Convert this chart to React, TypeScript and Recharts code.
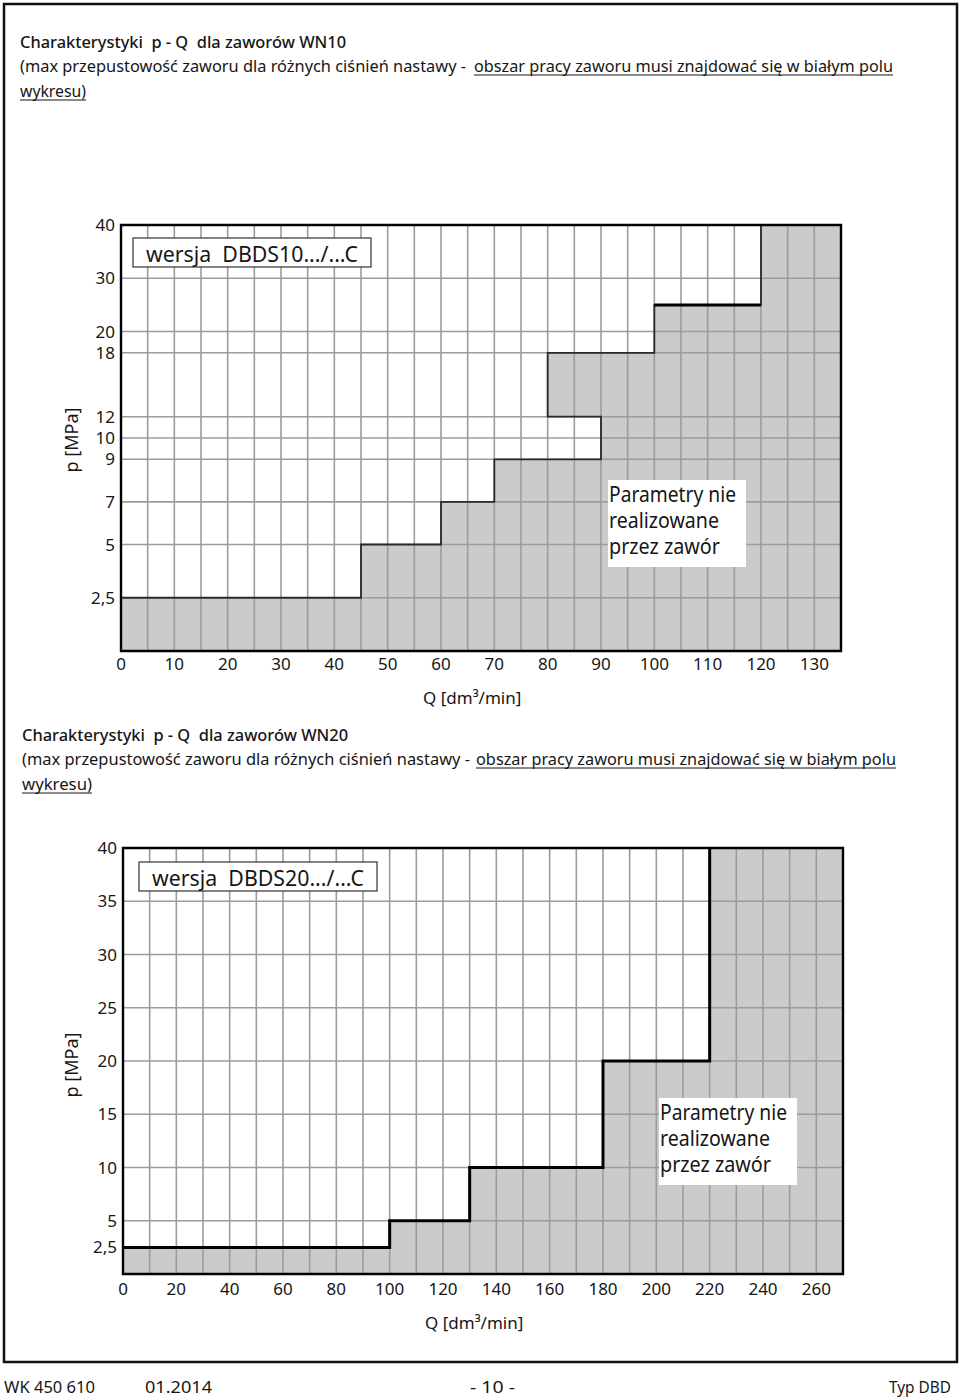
import React from 'react';
import { ComposedChart, Line, XAxis, YAxis, ReferenceArea, ReferenceLine } from 'recharts';

// ---------- WN10 chart data ----------
const q1Ticks = [0, 10, 20, 30, 40, 50, 60, 70, 80, 90, 100, 110, 120, 130];
const q1Grid = [5, 10, 15, 20, 25, 30, 35, 40, 45, 50, 55, 60, 65, 70, 75, 80, 85, 90, 95, 100, 105, 110, 115, 120, 125, 130];
const q1Max = 135;
const p1Ticks = [2.5, 5, 7, 9, 10, 12, 18, 20, 30, 40];
const p1BandLow = [2.5, 5, 7, 9, 12, 18, 25];
const p1BandHigh = [5, 7, 9, 12, 18, 25, 40];
const q1BandMax = [45, 60, 70, 90, 80, 100, 120];
// piecewise pressure axis of the WN10 chart (pressure knots -> axis units)
const p1Knots = [0, 10, 20, 40];
const p1Units = [0, 20, 30, 40];

// ---------- WN20 chart data ----------
const q2Ticks = [0, 20, 40, 60, 80, 100, 120, 140, 160, 180, 200, 220, 240, 260];
const q2Grid = [10, 20, 30, 40, 50, 60, 70, 80, 90, 100, 110, 120, 130, 140, 150, 160, 170, 180, 190, 200, 210, 220, 230, 240, 250, 260];
const q2Max = 270;
const p2Ticks = [2.5, 5, 10, 15, 20, 25, 30, 35, 40];
const p2Grid = [5, 10, 15, 20, 25, 30, 35];
const p2BandLow = [2.5, 5, 10, 20];
const p2BandHigh = [5, 10, 20, 40];
const q2BandMax = [100, 130, 180, 220];

const FONT = "'Noto Sans', 'Open Sans', sans-serif";
const TFONT = "'Liberation Sans Narrow', 'Noto Sans', sans-serif";
const GRID = '#9c9c9c';
const SHADE = '#cbcbcb';
const INK = '#161616';

function toU(p: number): number {
  for (let i = 1; i < p1Knots.length; i++) {
    if (p <= p1Knots[i]) {
      const t = (p - p1Knots[i - 1]) / (p1Knots[i] - p1Knots[i - 1]);
      return p1Units[i - 1] + t * (p1Units[i] - p1Units[i - 1]);
    }
  }
  return p1Units[p1Units.length - 1];
}

const fmt = (v: number) => String(v).replace('.', ',');

function stepPoints(low: number[], qmax: number[], top: number) {
  const pts: { q: number; p: number }[] = [];
  low.forEach((p, i) => {
    pts.push({ q: i === 0 ? 0 : qmax[i - 1], p });
    pts.push({ q: qmax[i], p });
  });
  pts.push({ q: qmax[qmax.length - 1], p: top });
  return pts;
}

const boundary1 = stepPoints(p1BandLow, q1BandMax, 40).map((d) => ({ q: d.q, u: toU(d.p) }));
const lastN = p1BandLow.length - 1;
const topSeg1 = [
  { q: q1BandMax[lastN - 1], u: toU(p1BandLow[lastN]) },
  { q: q1BandMax[lastN], u: toU(p1BandLow[lastN]) },
];
const boundary2 = stepPoints(p2BandLow, q2BandMax, 40).map((d) => ({ q: d.q, u: d.p }));
const p1TickUnits = p1Ticks.map(toU);

const tickStyle = { fontSize: 17, fill: INK, fontFamily: FONT };

function Chart1() {
  return (
    <ComposedChart width={960} height={500} margin={{ top: 25, right: 119, bottom: 19, left: 61 }}>
      <XAxis type="number" dataKey="q" domain={[0, q1Max]} ticks={q1Ticks} interval={0} allowDataOverflow
        tickLine={false} axisLine={false} tickSize={6} tickMargin={1} height={30} tick={tickStyle} />
      <YAxis type="number" dataKey="u" domain={[0, 40]} ticks={p1TickUnits} interval={0} allowDataOverflow
        tickLine={false} axisLine={false} tickSize={4} tickMargin={2} width={60} tick={tickStyle}
        tickFormatter={(u: number) => {
          const i = p1TickUnits.findIndex((x) => Math.abs(x - u) < 1e-6);
          return i >= 0 ? fmt(p1Ticks[i]) : '';
        }} />
      <ReferenceArea x1={0} x2={q1Max} y1={0} y2={40} fill={SHADE} fillOpacity={1} stroke="none" zIndex={1} />
      {p1BandLow.map((lo, i) => (
        <ReferenceArea key={'w' + i} x1={0} x2={q1BandMax[i]} y1={toU(lo)} y2={toU(p1BandHigh[i])}
          fill="#ffffff" fillOpacity={1} stroke="none" zIndex={2} />
      ))}
      {q1Grid.map((q) => (
        <ReferenceLine key={'gx' + q} x={q} stroke={GRID} strokeWidth={1.6} zIndex={3} />
      ))}
      {p1Ticks.filter((p) => p < 40).map((p) => (
        <ReferenceLine key={'gy' + p} y={toU(p)} stroke={GRID} strokeWidth={1.6} zIndex={3} />
      ))}
      <Line data={boundary1} dataKey="u" type="linear" stroke="#2a2a2a" strokeWidth={1.8} dot={false}
        isAnimationActive={false} zIndex={4} />
      <Line data={topSeg1} dataKey="u" type="linear" stroke="#000" strokeWidth={3} dot={false}
        isAnimationActive={false} zIndex={4} />
      <ReferenceArea x1={0} x2={q1Max} y1={0} y2={40} fill="none" stroke="#000" strokeWidth={2.4} zIndex={5} />
    </ComposedChart>
  );
}

function Chart2() {
  return (
    <ComposedChart width={960} height={500} margin={{ top: 28, right: 117, bottom: 16, left: 63 }}>
      <XAxis type="number" dataKey="q" domain={[0, q2Max]} ticks={q2Ticks} interval={0} allowDataOverflow
        tickLine={false} axisLine={false} tickSize={6} tickMargin={3} height={30} tick={tickStyle} />
      <YAxis type="number" dataKey="u" domain={[0, 40]} ticks={p2Ticks} interval={0} allowDataOverflow
        tickLine={false} axisLine={false} tickSize={4} tickMargin={2} width={60} tick={tickStyle}
        tickFormatter={(v: number) => fmt(v)} />
      <ReferenceArea x1={0} x2={q2Max} y1={0} y2={40} fill={SHADE} fillOpacity={1} stroke="none" zIndex={1} />
      {p2BandLow.map((lo, i) => (
        <ReferenceArea key={'w' + i} x1={0} x2={q2BandMax[i]} y1={lo} y2={p2BandHigh[i]}
          fill="#ffffff" fillOpacity={1} stroke="none" zIndex={2} />
      ))}
      {q2Grid.map((q) => (
        <ReferenceLine key={'gx' + q} x={q} stroke={GRID} strokeWidth={1.6} zIndex={3} />
      ))}
      {p2Grid.map((p) => (
        <ReferenceLine key={'gy' + p} y={p} stroke={GRID} strokeWidth={1.6} zIndex={3} />
      ))}
      <Line data={boundary2} dataKey="u" type="linear" stroke="#000" strokeWidth={3} dot={false}
        isAnimationActive={false} zIndex={4} />
      <ReferenceArea x1={0} x2={q2Max} y1={0} y2={40} fill="none" stroke="#000" strokeWidth={2.4} zIndex={5} />
    </ComposedChart>
  );
}

const T = (props: any) => (
  <text fontFamily={TFONT} fontSize={17} fill={INK} lengthAdjust="spacingAndGlyphs"
    style={{ whiteSpace: 'pre' }} {...props} />
);

function Title({ x, y, name, w1, w2a, x2b, w2b, w3 }: any) {
  return (
    <g>
      <T x={x} y={y} textLength={w1} fontWeight={500}>{`Charakterystyki  p - Q  dla zaworów ${name}`}</T>
      <T x={x} y={y + 24} textLength={w2a}>(max przepustowość zaworu dla różnych ciśnień nastawy -</T>
      <T x={x2b} y={y + 24} textLength={w2b}>obszar pracy zaworu musi znajdować się w białym polu</T>
      <line x1={x2b} x2={x2b + w2b} y1={y + 27} y2={y + 27} stroke={INK} strokeWidth={1} />
      <T x={x} y={y + 49} textLength={w3}>wykresu)</T>
      <line x1={x} x2={x + w3} y1={y + 52} y2={y + 52} stroke={INK} strokeWidth={1} />
    </g>
  );
}

function Version({ x, y, label }: any) {
  return (
    <g>
      <rect x={x} y={y} width={238} height={29} fill="#fff" stroke="#333" strokeWidth={1.2} />
      <text x={x + 13} y={y + 24} fontFamily={FONT} fontSize={22} fill={INK} textLength={212}
        lengthAdjust="spacingAndGlyphs" style={{ whiteSpace: 'pre' }}>{label}</text>
    </g>
  );
}

function NotRealised({ x, y }: any) {
  return (
    <g>
      <rect x={x} y={y} width={138} height={87} fill="#fff" />
      <text x={x + 1} y={y + 22} fontFamily={FONT} fontSize={21} fill={INK} textLength={127} lengthAdjust="spacingAndGlyphs">Parametry nie</text>
      <text x={x + 1} y={y + 48} fontFamily={FONT} fontSize={21} fill={INK} textLength={110} lengthAdjust="spacingAndGlyphs">realizowane</text>
      <text x={x + 1} y={y + 74} fontFamily={FONT} fontSize={21} fill={INK} textLength={111} lengthAdjust="spacingAndGlyphs">przez zawór</text>
    </g>
  );
}

function QLabel({ x, y }: any) {
  return (
    <text x={x} y={y} fontFamily={FONT} fontSize={17} fill={INK}>Q [dm³/min]</text>
  );
}

function PLabel({ cx, cy }: any) {
  return (
    <text x={cx} y={cy} transform={`rotate(-90 ${cx} ${cy})`} textAnchor="middle" dominantBaseline="central"
      fontFamily={FONT} fontSize={18} fill={INK}>p [MPa]</text>
  );
}

export default function App() {
  return (
    <div style={{ position: 'absolute', left: 0, top: 0, width: 960, height: 1400, background: '#fff' }}>
      <div style={{ position: 'absolute', left: 0, top: 200 }}>
        <Chart1 />
      </div>
      <div style={{ position: 'absolute', left: 0, top: 820 }}>
        <Chart2 />
      </div>
      <svg width={960} height={1400} style={{ position: 'absolute', left: 0, top: 0, pointerEvents: 'none' }}>
        <rect x={4} y={4} width={953} height={1358} fill="none" stroke="#111" strokeWidth={2.5} />
        <Title x={20} y={48} name="WN10" w1={326} w2a={446} x2b={474} w2b={419} w3={66} />
        <Title x={22} y={741} name="WN20" w1={326} w2a={448} x2b={476} w2b={420} w3={70} />
        <Version x={133} y={238} label="wersja  DBDS10.../...C" />
        <Version x={139} y={862} label="wersja  DBDS20.../...C" />
        <NotRealised x={608} y={480} />
        <NotRealised x={659} y={1098} />
        <QLabel x={423} y={704} />
        <QLabel x={425} y={1329} />
        <PLabel cx={71} cy={440} />
        <PLabel cx={71} cy={1065} />
        <T x={4} y={1393} textLength={91}>WK 450 610</T>
        <T x={145} y={1393} textLength={67}>01.2014</T>
        <T x={470} y={1393} textLength={45}>- 10 -</T>
        <T x={889} y={1393} textLength={62}>Typ DBD</T>
      </svg>
    </div>
  );
}
